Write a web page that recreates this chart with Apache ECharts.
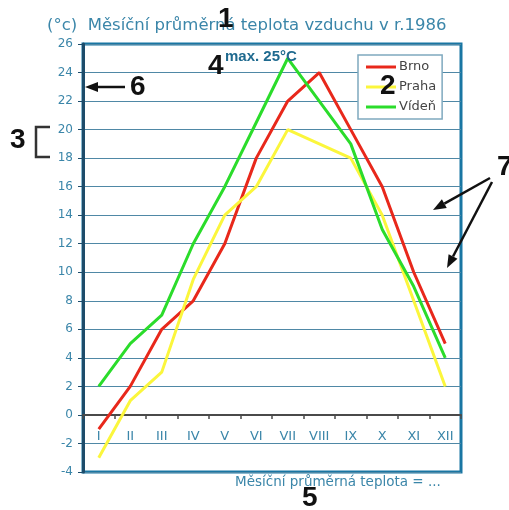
<!DOCTYPE html>
<html>
<head>
<meta charset="utf-8">
<script src="https://cdn.jsdelivr.net/npm/echarts@6/dist/echarts.min.js"></script>
<style>html,body{margin:0;padding:0;background:#fff}#c{width:509px;height:510px}</style>
</head>
<body>
<div id="c"></div>
<script>
var months = ['I','II','III','IV','V','VI','VII','VIII','IX','X','XI','XII'];
var brno  = [-1, 2, 6, 8, 12, 18, 22, 24, 20, 16, 10, 5];
var praha = [-3, 1, 3, 9.5, 14, 16, 20, 19, 18, 14, 8, 2];
var viden = [2, 5, 7, 12, 16, 20.5, 25, 22, 19, 13, 9, 4];
var yMin = -4, yMax = 26, yStep = 2;

var teal = '#3b86a9';
var gridTop = 44, gridBottom = 38, H = 510;
var plotH = H - gridTop - gridBottom;
var zeroOffset = -plotH * (0 - yMin) / (yMax - yMin);

var chart = echarts.init(document.getElementById('c'), null, {renderer:'canvas'});

function arrow(x1,y1,x2,y2){
  var ang = Math.atan2(y2-y1, x2-x1), L = 13, W = 5;
  var bx = x2 - L*Math.cos(ang), by = y2 - L*Math.sin(ang);
  var px = -Math.sin(ang)*W, py = Math.cos(ang)*W;
  return [
    {type:'line', shape:{x1:x1,y1:y1,x2:bx,y2:by}, style:{stroke:'#111',lineWidth:2.5}, z:100},
    {type:'polygon', shape:{points:[[x2,y2],[bx+px,by+py],[bx-px,by-py]]}, style:{fill:'#111'}, z:100}
  ];
}
var big = {fill:'#111', font:'bold 28px "Liberation Sans", Arial, sans-serif'};
var graphics = [
  {type:'text', left:218, top:5, style:Object.assign({text:'1'}, big), z:100},
  {type:'text', left:380, top:72, style:Object.assign({text:'2'}, big), z:100},
  {type:'text', left:10, top:126, style:Object.assign({text:'3'}, big), z:100},
  {type:'text', left:208, top:52, style:Object.assign({text:'4'}, big), z:100},
  {type:'text', left:302, top:484, style:Object.assign({text:'5'}, big), z:100},
  {type:'text', left:130, top:73, style:Object.assign({text:'6'}, big), z:100},
  {type:'text', left:497, top:153, style:Object.assign({text:'7'}, big), z:100},
  {type:'polyline', shape:{points:[[50,127],[36,127],[36,157],[50,157]]}, style:{stroke:'#333',lineWidth:2.5,fill:null}, z:100},
  {type:'text', left:225, top:49, style:{text:'max. 25°C', fill:'#1f6a8f', font:'bold 15px "Liberation Sans Narrow", "Liberation Sans", Arial, sans-serif'}, z:100},
  {type:'text', left:235, top:475, style:{text:'Měsíční průměrná teplota = ...', fill:teal, font:'13.5px "DejaVu Sans", Verdana, sans-serif'}, z:100}
].concat(arrow(125,87,85,87)).concat(arrow(490,178,433,210)).concat(arrow(492,182,447,268));

chart.setOption({
  animation:false,
  title:{text:'(°c)  Měsíční průměrná teplota vzduchu v r.1986', left:47, top:17, padding:0,
    textStyle:{color:teal, fontSize:16.5, fontWeight:'normal', fontFamily:'"DejaVu Sans", Verdana, sans-serif'}},
  legend:{orient:'vertical', left:358, top:55, padding:[5,6,5,8], itemGap:6, itemWidth:30, itemHeight:3, icon:'rect',
    borderColor:'#7fa9bf', borderWidth:1.5, backgroundColor:'#fff',
    textStyle:{color:'#444', fontSize:13, lineHeight:14, fontFamily:'"DejaVu Sans", Verdana, sans-serif', padding:[0,0,0,-2]},
    data:['Brno','Praha','Vídeň']},
  grid:{left:83, right:48, top:gridTop, bottom:gridBottom, show:true, borderColor:'#1976a3', borderWidth:3, backgroundColor:'#fff'},
  xAxis:{type:'category', data:months, boundaryGap:true, position:'bottom', offset:zeroOffset,
    axisLine:{onZero:false, lineStyle:{color:'#4a4a4a', width:2}},
    axisTick:{show:true, length:4, lineStyle:{color:'#4a4a4a', width:1.5}},
    axisLabel:{color:teal, fontSize:13, margin:15, fontFamily:'"DejaVu Sans", Verdana, sans-serif'},
    splitLine:{show:false}},
  yAxis:{type:'value', min:yMin, max:yMax, interval:yStep,
    axisLine:{show:true, lineStyle:{color:'#1d4c6b', width:3}},
    axisTick:{show:true, length:5, lineStyle:{color:'#1d4c6b'}},
    axisLabel:{color:teal, fontSize:12, margin:10, fontFamily:'"DejaVu Sans", Verdana, sans-serif'},
    splitLine:{lineStyle:{color:'#4f88a6', width:1}}},
  series:[
    {name:'Brno', type:'line', data:brno, symbol:'none', lineStyle:{color:'#e8281b', width:3}, itemStyle:{color:'#e8281b'}},
    {name:'Praha', type:'line', data:praha, symbol:'none', lineStyle:{color:'#fbf63c', width:3}, itemStyle:{color:'#fbf63c'}},
    {name:'Vídeň', type:'line', data:viden, symbol:'none', lineStyle:{color:'#2bdc2b', width:3}, itemStyle:{color:'#2bdc2b'}}
  ],
  graphic:graphics
});
</script>
</body>
</html>
